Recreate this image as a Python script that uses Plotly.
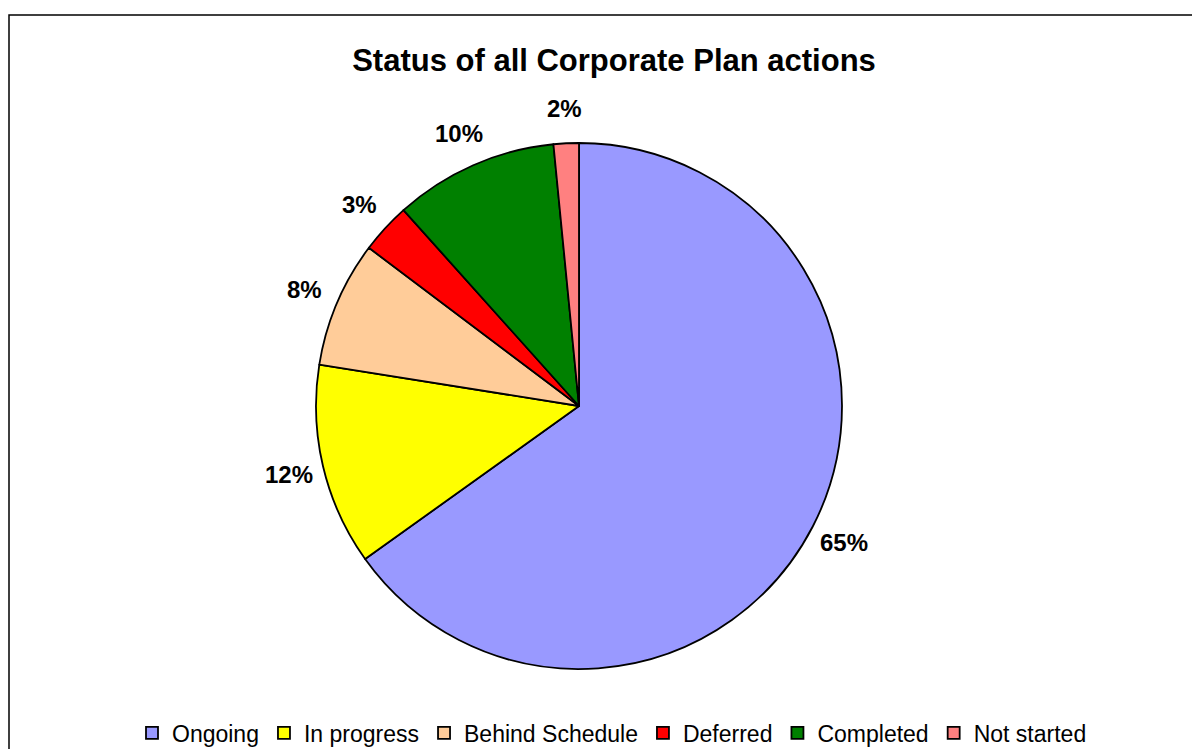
import math
import plotly.graph_objects as go

categories = ["Ongoing", "In progress", "Behind Schedule", "Deferred", "Completed", "Not started"]
counts = [84, 16, 10, 4, 13, 2]
colors = ["#9999FF", "#FFFF00", "#FFCC99", "#FF0000", "#008000", "#FF8080"]
title_text = "Status of all Corporate Plan actions"

W, H = 1200, 749
OFF = 8  # page body margin
cx, cy, r = 579 - OFF, 406 - OFF, 263
top, bottom = cy - r, cy + r
ph = bottom - top
label_dist = 298

FONT = "Arial, 'Liberation Sans', sans-serif"

fig = go.Figure(go.Pie(
    labels=categories,
    values=counts,
    sort=False,
    direction="clockwise",
    rotation=0,
    marker=dict(colors=colors, line=dict(color="black", width=1.8)),
    textinfo="none",
    hoverinfo="skip",
    domain=dict(x=[(cx - r) / W, (cx + r) / W], y=[0, 1]),
    automargin=False,
))

# percentage labels placed outside each slice, at the slice's mid angle
total = sum(counts)
cum = 0
for v in counts:
    mid = (cum + v / 2) / total * 2 * math.pi
    cum += v
    px = cx + label_dist * math.sin(mid)
    py = cy - label_dist * math.cos(mid)
    fig.add_annotation(
        x=px / W, y=(bottom - py) / ph, xref="paper", yref="paper",
        text=f"{round(100 * v / total)}%", showarrow=False,
        xanchor="center", yanchor="middle",
        font=dict(family=FONT, size=24, color="black", weight="bold"),
    )

fig.add_shape(type="rect", xref="paper", yref="paper",
              x0=(9 - OFF) / W, x1=1.2, y0=-1.0, y1=(bottom - (15 - OFF)) / ph,
              line=dict(color="black", width=1.5), fillcolor="rgba(0,0,0,0)")

fig.update_layout(
    width=W, height=H,
    margin=dict(l=0, r=0, t=top, b=H - bottom, pad=0),
    paper_bgcolor="white", plot_bgcolor="white",
    title=dict(text=title_text, x=(614 - OFF) / W, xanchor="center",
               y=1 - (60 - OFF) / H, yanchor="middle", yref="container",
               font=dict(family=FONT, size=31, color="black", weight="bold")),
    showlegend=True,
    legend=dict(orientation="h", x=(612 - OFF) / W, xanchor="center",
                y=(bottom - (733 - OFF)) / ph, yanchor="middle",
                font=dict(family=FONT, size=23, color="black"),
                itemwidth=30, tracegroupgap=0, traceorder="normal"),
)

fig.write_html("out.html")
